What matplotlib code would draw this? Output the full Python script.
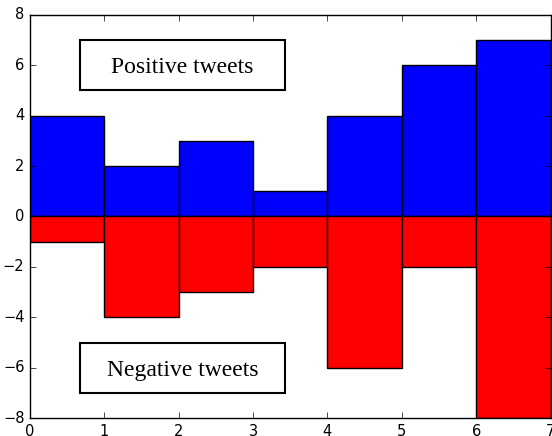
import numpy as np
import matplotlib
matplotlib.use("Agg")
import matplotlib.pyplot as plt
from matplotlib.patches import Rectangle

##############################
# data
days = np.arange(7)
positive = [4, 2, 3, 1, 4, 6, 7]
negative = [-1, -4, -3, -2, -6, -2, -8]
labels = ["Positive tweets", "Negative tweets"]
##############################
plt.style.use("classic")
fig = plt.figure(figsize=(5.52, 4.36), dpi=100)
ax = fig.add_axes([0.0543, 0.041, 0.943, 0.925])

ax.bar(days, positive, width=1, align="edge", color="blue", edgecolor="black", linewidth=1)
ax.bar(days, negative, width=1, align="edge", color="red", edgecolor="black", linewidth=1)

# label boxes
for lab, yc in zip(labels, [6, -6]):
    ax.add_patch(Rectangle((0.67, yc - 1), 2.76, 2, facecolor="white",
                           edgecolor="black", linewidth=1.5, zorder=3))
    ax.text(2.05, yc - 0.1, lab, ha="center", va="center", fontsize=17,
            family="Liberation Serif", zorder=4)

ax.set_xlim(0, 7)
ax.set_ylim(-8, 8)
ax.set_xticks(range(0, 8))
ax.set_yticks(range(-8, 9, 2))
ax.tick_params(labelsize=10.5)

fig.savefig("out.png", dpi=100)
